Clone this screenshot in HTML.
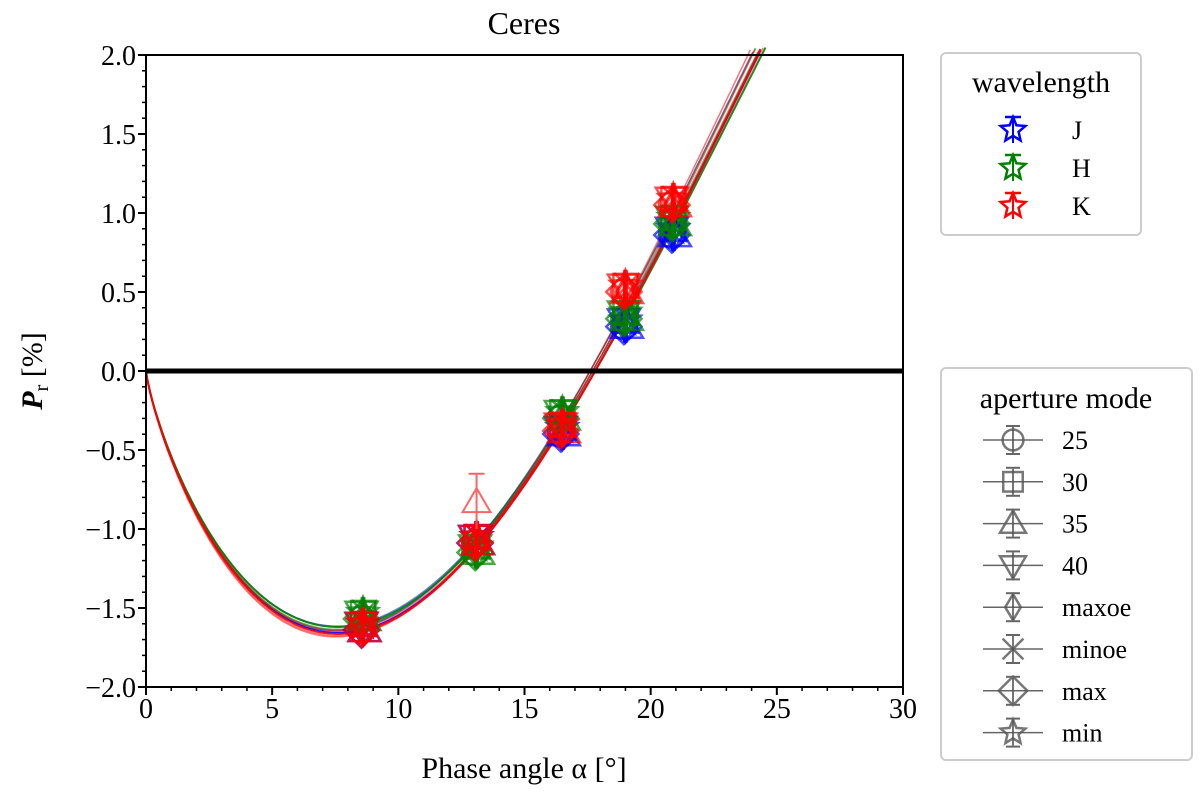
<!DOCTYPE html>
<html><head><meta charset="utf-8"><style>
body{margin:0;background:#fff;}
svg text{font-family:"Liberation Serif","DejaVu Serif",serif;fill:#000;}
</style></head><body>
<svg id="chart" width="1200" height="788" xmlns="http://www.w3.org/2000/svg">
<g id="curves"></g>
<g id="points"></g>
<line x1="146" x2="903" y1="371" y2="371" stroke="#000" stroke-width="5"/>
<rect x="146" y="55" width="757" height="632" fill="none" stroke="#000" stroke-width="2"/>
<g id="axes"></g>
<text x="524" y="34" font-size="32" text-anchor="middle">Ceres</text>
<text x="524" y="778" font-size="30" text-anchor="middle">Phase angle α [°]</text>
<text transform="translate(42,371) rotate(-90)" font-size="30" text-anchor="middle"><tspan font-style="italic" font-weight="bold">P</tspan><tspan font-size="20" dy="6">r</tspan><tspan dy="-6"> [%]</tspan></text>
<g>
<rect x="941" y="53" width="200" height="182" rx="5" fill="#fff" stroke="#ccc" stroke-width="2"/>
<text x="1041" y="92" font-size="30" text-anchor="middle">wavelength</text>
<g id="wl"></g>
</g>
<g>
<rect x="941" y="368" width="251" height="392" rx="5" fill="#fff" stroke="#ccc" stroke-width="2"/>
<text x="1066" y="408" font-size="30" text-anchor="middle">aperture mode</text>
<g id="ap"></g>
</g>
</svg>
<script>
const phases=[8.6,13.1,16.5,19.0,20.9];
const bands=["J","H","K"];
const bandColors=["#0000ff","#008000","#ff0000"];
const valJ=[-1.62,-1.07,-0.38,0.30,0.88];
const valH=[-1.55,-1.13,-0.28,0.35,0.95];
const valK=[-1.62,-1.07,-0.36,0.52,1.07];
const fitB_J=[48.6,47.8,49.2];
const fitB_H=[47.5,48.4,49.0];
const fitB_K=[48.8,49.6,50.3,48.2];
const fitA0=[17.8,17.7,17.6];
const xTicks=[0,5,10,15,20,25,30];
const yTicks=[-2.0,-1.5,-1.0,-0.5,0.0,0.5,1.0,1.5,2.0];
const apModes=["25","30","35","40","maxoe","minoe","max","min"];
const NS="http://www.w3.org/2000/svg";
const X=v=>146+v*757/30, Y=v=>371-v*158;
function el(t,a,p){const e=document.createElementNS(NS,t);for(const k in a)e.setAttribute(k,a[k]);p.appendChild(e);return e;}
const axes=document.getElementById('axes');
for(let i=0;i<=30;i++){const major=i%5==0;el('line',{x1:X(i),x2:X(i),y1:687,y2:687+(major?8:4),stroke:'#000','stroke-width':major?2:1.5},axes);}
for(let i=-20;i<=20;i++){const major=i%5==0;el('line',{x1:146,x2:146-(major?8:4),y1:Y(i/10),y2:Y(i/10),stroke:'#000','stroke-width':major?2:1.5},axes);}
xTicks.forEach(v=>{const t=el('text',{x:X(v),y:718,'font-size':28,'text-anchor':'middle'},axes);t.textContent=v;

});
yTicks.forEach(v=>{const t=el('text',{x:136,y:Y(v)+10,'font-size':28,'text-anchor':'end'},axes);t.textContent=(v<0?'−':'')+Math.abs(v).toFixed(1);

});
const R=Math.PI/180;
function model(a,b,a0){return b*Math.pow(Math.sin(a*R),0.8)*Math.pow(Math.cos(a*R/2),13)*Math.sin((a-a0)*R);}
const curves=document.getElementById('curves');
[fitB_J,fitB_H,fitB_K].forEach((bs,bi)=>{bs.forEach((b,k)=>{let d='';for(let a=0.05;a<=26;a+=0.1){const p=model(a,b,fitA0[k%3]);if(p>2.05)break;d+=(d?'L':'M')+X(a).toFixed(1)+','+Y(p).toFixed(1);}
const p=el('path',{d:'M'+X(0)+','+Y(0)+d.replace('M','L'),fill:'none',stroke:bandColors[bi],'stroke-width':k==0?2:1.5,opacity:k==0?0.9:0.55},curves);

});});
function marker(g,shape,cx,cy,c,s,op){s=s||15;op=op||0.6;let a={fill:'none',stroke:c,'stroke-width':2.5,opacity:op};
if(shape==0)el('circle',Object.assign({cx,cy,r:s*0.8},a),g);
else if(shape==1)el('rect',Object.assign({x:cx-s*0.75,y:cy-s*0.75,width:s*1.5,height:s*1.5},a),g);
else if(shape==2)el('polygon',Object.assign({points:`${cx},${cy-s} ${cx-s},${cy+s*0.7} ${cx+s},${cy+s*0.7}`},a),g);
else if(shape==3)el('polygon',Object.assign({points:`${cx},${cy+s} ${cx-s},${cy-s*0.7} ${cx+s},${cy-s*0.7}`},a),g);
else if(shape==4)el('polygon',Object.assign({points:`${cx},${cy-s} ${cx+s*0.6},${cy} ${cx},${cy+s} ${cx-s*0.6},${cy}`},a),g);
else if(shape==5)el('path',Object.assign({d:`M${cx-s*0.8},${cy-s*0.8}L${cx+s*0.8},${cy+s*0.8}M${cx-s*0.8},${cy+s*0.8}L${cx+s*0.8},${cy-s*0.8}`},a),g);
else if(shape==6)el('polygon',Object.assign({points:`${cx},${cy-s*1.1} ${cx+s*1.1},${cy} ${cx},${cy+s*1.1} ${cx-s*1.1},${cy}`},a),g);
else{let pts=[];for(let i=0;i<10;i++){const r=i%2?s*0.45:s;const t=-Math.PI/2+i*Math.PI/5;pts.push((cx+r*Math.cos(t)).toFixed(1)+','+(cy+r*Math.sin(t)).toFixed(1));}el('polygon',Object.assign({points:pts.join(' ')},a),g);}
el('line',{x1:cx,x2:cx,y1:cy-s,y2:cy+s,stroke:c,'stroke-width':2,opacity:op},g);}
const pts=document.getElementById('points');
[valJ,valH,valK].forEach((vals,bi)=>{vals.forEach((v,i)=>{const g=el('g',{},pts);


for(let s=0;s<8;s++){marker(g,s,X(phases[i])+((s%3)-1)*1.5,Y(v)+((s%2)?-3:3),bandColors[bi],16,0.7);}});});
{const g=el('g',{opacity:0.9},pts);


const cx=X(13.1),cy=Y(-0.83);
el('polygon',{points:`${cx},${cy-14} ${cx-14},${cy+10} ${cx+14},${cy+10}`,fill:'none',stroke:'#f55','stroke-width':2},g);
el('line',{x1:cx,x2:cx,y1:Y(-0.65),y2:Y(-1.0),stroke:'#f55','stroke-width':2},g);
el('line',{x1:cx-8,x2:cx+8,y1:Y(-0.65),y2:Y(-0.65),stroke:'#f55','stroke-width':2},g);}
const wl=document.getElementById('wl');
bands.forEach((b,i)=>{const y=130+i*38;const g=el('g',{},wl);


marker(g,7,1013,y,bandColors[i],13,1);
el('line',{x1:1005,x2:1021,y1:y-13,y2:y-13,stroke:bandColors[i],'stroke-width':2.5},g);
const t=el('text',{x:1072,y:y+9,'font-size':26},g);t.textContent=b;});
const ap=document.getElementById('ap');
apModes.forEach((m,i)=>{const y=440+i*41.8;const g=el('g',{},ap);


el('line',{x1:983,x2:1043,y1:y,y2:y,stroke:'#666','stroke-width':1.5},g);
marker(g,i,1013,y,'#555',13,0.8);
el('line',{x1:1006,x2:1020,y1:y-14,y2:y-14,stroke:'#666','stroke-width':2},g);
el('line',{x1:1006,x2:1020,y1:y+14,y2:y+14,stroke:'#666','stroke-width':2},g);
const t=el('text',{x:1062,y:y+9,'font-size':26},g);t.textContent=m;});
</script>
</body></html>
